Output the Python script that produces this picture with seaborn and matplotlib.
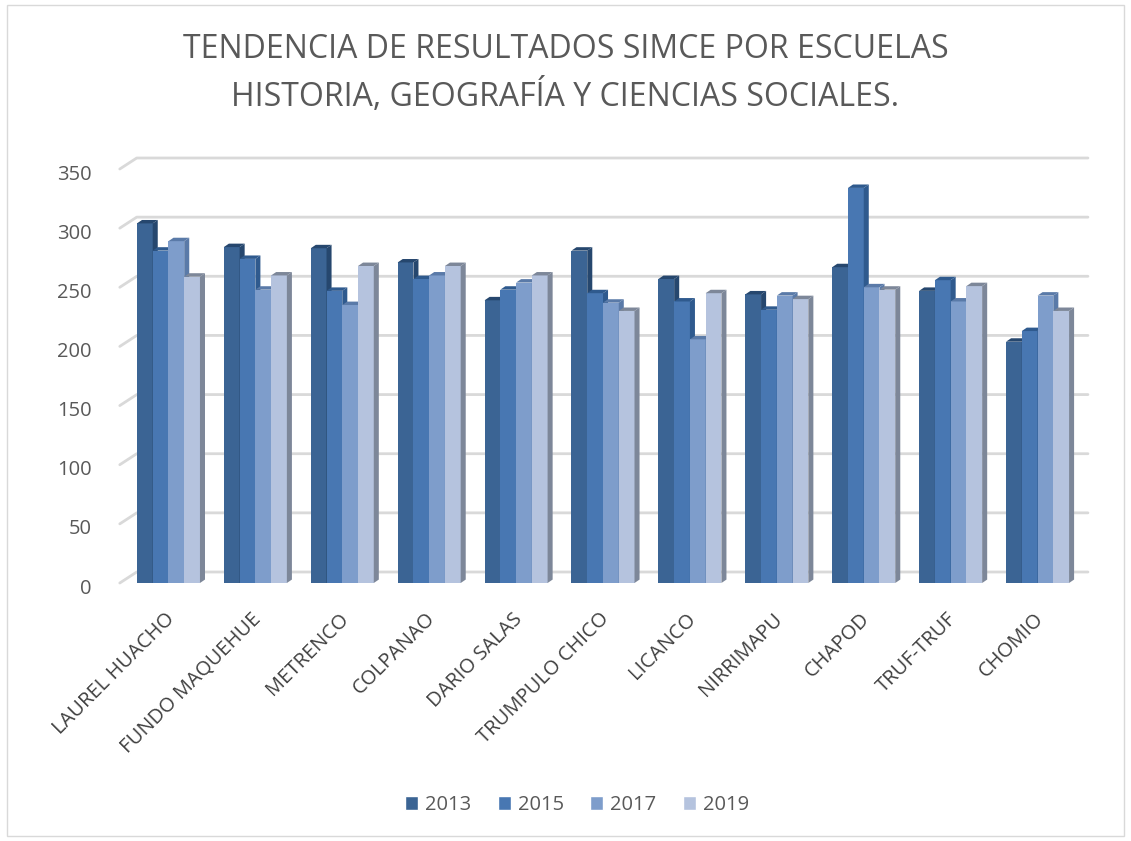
# Importing required libraries ====

import matplotlib
matplotlib.use("Agg")
import matplotlib.pyplot as plt
import matplotlib.transforms as mtransforms
from matplotlib.patches import Polygon, Rectangle
import pandas as pd
import seaborn as sns


# Data ====

escuelas = ["LAUREL HUACHO", "FUNDO MAQUEHUE", "METRENCO", "COLPANAO", "DARIO SALAS",
            "TRUMPULO CHICO", "LICANCO", "NIRRIMAPU", "CHAPOD", "TRUF-TRUF", "CHOMIO"]
anios = ["2013", "2015", "2017", "2019"]

simce_2013 = [304, 284, 283, 271, 239, 281, 257, 244, 267, 247, 204]
simce_2015 = [281, 274, 247, 257, 248, 245, 238, 231, 334, 256, 213]
simce_2017 = [289, 248, 235, 260, 254, 237, 206, 243, 250, 238, 243]
simce_2019 = [259, 260, 268, 268, 260, 230, 245, 240, 248, 251, 230]

colores = ["#3b6494", "#4877b2", "#7e9dcb", "#b5c3de"]
lados = ["#26476e", "#2f5a8e", "#5a7aa8", "#7d8799"]

df = pd.DataFrame({"escuela": escuelas, "2013": simce_2013, "2015": simce_2015,
                   "2017": simce_2017, "2019": simce_2019})
df = df.melt(id_vars="escuela", var_name="anio", value_name="puntaje")


# Chart ====

sns.set_theme(style="white")
plt.rcParams["font.family"] = ["Open Sans", "DejaVu Sans"]

fig = plt.figure(figsize=(11.31, 8.41), dpi=100)
ax = fig.add_axes([125 / 1131, 1 - 583 / 841, (1081 - 125) / 1131, (583 - 169) / 841])

sns.barplot(data=df, x="escuela", y="puntaje", hue="anio", hue_order=anios,
            palette=colores, width=0.725, saturation=1, legend=False, ax=ax)

# falso 3D: cara lateral y superior de cada barra
dx, dy = 0.058, 2.9
for j, cont in enumerate(ax.containers):
    for bar in cont:
        x0, w, h = bar.get_x(), bar.get_width(), bar.get_height()
        bar.set_zorder(3 + j)
        bar.set_linewidth(0)
        lado = Polygon([(x0 + w, 0), (x0 + w + dx, dy), (x0 + w + dx, h + dy), (x0 + w, h)],
                       closed=True, facecolor=lados[j], edgecolor="none", zorder=3.5 + j)
        tapa = Polygon([(x0, h), (x0 + dx, h + dy), (x0 + w + dx, h + dy), (x0 + w, h)],
                       closed=True, facecolor=lados[j], edgecolor="none", zorder=3.6 + j)
        ax.add_patch(lado)
        ax.add_patch(tapa)

ax.set_ylim(0, 350)
ax.set_xlim(-0.5, len(escuelas) - 0.5)
ax.set_yticks(range(0, 351, 50))

# lineas de cuadricula en la pared del fondo (con el tramo inclinado del lateral)
gx, gy = 0.195, 9.3
for v in range(0, 351, 50):
    ax.plot([-0.56, -0.56 + gx, len(escuelas) - 0.42], [v, v + gy, v + gy],
            color="#d9d9d9", lw=2, zorder=0.5, clip_on=False)

for s in ax.spines.values():
    s.set_visible(False)
ax.set_xlabel("")
ax.set_ylabel("")
ax.tick_params(axis="y", length=0, pad=24, labelsize=14.5, labelcolor="#595959")
ax.tick_params(axis="x", length=0, pad=0)

yoff = mtransforms.ScaledTranslation(0, -3 / 100, fig.dpi_scale_trans)
for lab in ax.get_yticklabels():
    lab.set_transform(lab.get_transform() + yoff)

ax.set_xticks(range(len(escuelas)))
ax.set_xticklabels(escuelas, rotation=45, ha="right", va="center",
                   rotation_mode="anchor", fontsize=14.5, color="#404040")
off = mtransforms.ScaledTranslation(3 / 100, -33 / 100, fig.dpi_scale_trans)
for lab in ax.get_xticklabels():
    lab.set_transform(lab.get_transform() + off)

fig.text(0.5, 1 - 50 / 841, "TENDENCIA DE RESULTADOS SIMCE POR ESCUELAS",
         ha="center", va="center", fontsize=23, color="#595959")
fig.text(0.5, 1 - 96 / 841, "HISTORIA, GEOGRAFÍA Y CIENCIAS SOCIALES.",
         ha="center", va="center", fontsize=23, color="#595959")

handles = [Rectangle((0, 0), 1, 1, facecolor=c) for c in colores]
fig.legend(handles, anios, loc="center", bbox_to_anchor=(577 / 1131, 1 - 805 / 841),
           ncol=4, frameon=False, fontsize=14.5, handlelength=0.65, handleheight=0.65,
           handletextpad=0.35, columnspacing=1.3, labelcolor="#595959")

fig.patches.append(Rectangle((0.006, 0.006), 0.988, 0.988, transform=fig.transFigure,
                             fill=False, edgecolor="#d9d9d9", lw=1))

plt.savefig("out.png", dpi=100)
